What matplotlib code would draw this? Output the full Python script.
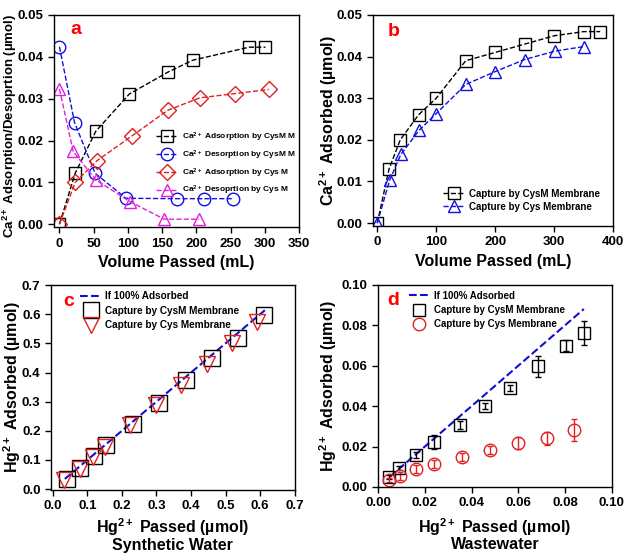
import numpy as np
import matplotlib
matplotlib.use("Agg")
import matplotlib.pyplot as plt
from matplotlib.lines import Line2D

plt.rcParams['font.family'] = ['Liberation Sans', 'DejaVu Sans']
plt.rcParams['font.weight'] = 'bold'
plt.rcParams['mathtext.fontset'] = 'custom'
plt.rcParams['mathtext.rm'] = 'Liberation Sans:bold'
plt.rcParams['mathtext.it'] = 'Liberation Sans:bold'
plt.rcParams['mathtext.bf'] = 'Liberation Sans:bold'

## panel a : Ca2+ adsorption / desorption
a_ads_cysm_x = [0, 23, 53, 102, 158, 195, 277, 301]
a_ads_cysm_y = [0, 0.0122, 0.0222, 0.0311, 0.0363, 0.0392, 0.0423, 0.0423]
a_des_cysm_x = [0, 22, 52, 97, 172, 211, 254]
a_des_cysm_y = [0.0424, 0.0243, 0.0122, 0.0062, 0.0061, 0.0061, 0.0061]
a_ads_cys_x = [0, 23, 55, 106, 158, 205, 256, 306]
a_ads_cys_y = [0, 0.0100, 0.0152, 0.0211, 0.0272, 0.0302, 0.0312, 0.0322]
a_des_cys_x = [0, 20, 53, 103, 153, 204]
a_des_cys_y = [0.0323, 0.0174, 0.0106, 0.0054, 0.0012, 0.0012]

## panel b : Ca2+ capture
b_cysm_x = [0, 20, 39, 70, 100, 150, 200, 250, 300, 350, 378]
b_cysm_y = [0, 0.013, 0.020, 0.026, 0.030, 0.039, 0.041, 0.043, 0.045, 0.046, 0.046]
b_cys_x = [0, 21, 40, 71, 100, 150, 200, 250, 301, 350]
b_cys_y = [0, 0.0103, 0.0165, 0.0223, 0.0263, 0.0333, 0.0364, 0.0393, 0.0413, 0.0424]

## panel c : Hg2+ synthetic water
c_line_x = [0.035, 0.615]
c_cysm_x = [0.042, 0.080, 0.119, 0.155, 0.231, 0.308, 0.386, 0.461, 0.535, 0.611]
c_cysm_y = [0.035, 0.072, 0.112, 0.150, 0.224, 0.297, 0.375, 0.449, 0.520, 0.598]
c_cys_x = [0.032, 0.078, 0.116, 0.150, 0.223, 0.299, 0.372, 0.446, 0.519, 0.590]
c_cys_y = [0.030, 0.068, 0.109, 0.146, 0.220, 0.289, 0.357, 0.429, 0.502, 0.574]

## panel d : Hg2+ wastewater
d_line_x = [0.005, 0.088]
d_cysm_x = [0.0046, 0.009, 0.0164, 0.0239, 0.035, 0.0456, 0.0564, 0.0683, 0.0803, 0.0879]
d_cysm_y = [0.0049, 0.0094, 0.0157, 0.0222, 0.0305, 0.0399, 0.0489, 0.0596, 0.0699, 0.0761]
d_cysm_err = [0.001, 0.0012, 0.0015, 0.0034, 0.002, 0.0015, 0.0015, 0.005, 0.0027, 0.006]
d_cys_x = [0.0046, 0.0093, 0.0164, 0.024, 0.036, 0.048, 0.060, 0.0721, 0.084]
d_cys_y = [0.0036, 0.0053, 0.0089, 0.0115, 0.0147, 0.0183, 0.0217, 0.024, 0.028]
d_cys_err = [0.001, 0.002, 0.002, 0.002, 0.002, 0.002, 0.003, 0.003, 0.0055]

fig = plt.figure(figsize=(6.25, 5.54), dpi=100)
axa = fig.add_axes([0.0864, 0.590, 0.392, 0.383])
axb = fig.add_axes([0.597, 0.592, 0.384, 0.381])
axc = fig.add_axes([0.0816, 0.1155, 0.390, 0.370])
axd = fig.add_axes([0.605, 0.121, 0.374, 0.365])

def style(ax):
    for s in ['top', 'right', 'left', 'bottom']:
        ax.spines[s].set_linewidth(1.0)
    ax.tick_params(direction='out', length=4, width=1, labelsize=9.5, top=False, right=False)
    for lab in ax.get_xticklabels() + ax.get_yticklabels():
        lab.set_fontweight('bold')

lab_fs = 11.5
BLUE = '#1010e0'
RED = '#e02020'
# ---- a
kw = dict(ls='--', lw=1, mfc='none', mew=1, ms=9)
axa.plot(a_ads_cysm_x, a_ads_cysm_y, marker='s', color='black', label='Ca$^{2+}$ Adsorption by CysM M', **kw)
axa.plot(a_des_cysm_x, a_des_cysm_y, marker='o', color=BLUE, label='Ca$^{2+}$ Desorption by CysM M', **kw)
axa.plot(a_ads_cys_x, a_ads_cys_y, marker='D', color=RED, label='Ca$^{2+}$ Adsorption by Cys M', **dict(kw, ms=8))
axa.plot(a_des_cys_x, a_des_cys_y, marker='^', color='#e020e0', label='Ca$^{2+}$ Desoprtion by Cys M', **kw)
axa.set_xlim(-8, 350)
axa.set_ylim(-0.0007, 0.05)
axa.set_xticks(np.arange(0, 351, 50))
axa.set_yticks(np.arange(0, 0.051, 0.01))
axa.yaxis.set_major_formatter(matplotlib.ticker.FormatStrFormatter('%.2f'))
axa.set_xlabel('Volume Passed (mL)', fontsize=lab_fs, fontweight='bold')
axa.set_ylabel('Ca$^{2+}$ Adsorption/Desoprtion (µmol)', fontsize=9.5, fontweight='bold')
axa.yaxis.set_label_coords(-0.142, 0.475)
axa.legend(loc='upper left', bbox_to_anchor=(0.40, 0.475), frameon=False, prop={'weight': 'bold', 'size': 6},
           handlelength=2.6, handletextpad=0.5, labelspacing=0.55, borderpad=0)
axa.text(0.065, 0.91, 'a', transform=axa.transAxes, color='red', fontsize=14, fontweight='bold')
style(axa)

# ---- b
axb.plot(b_cysm_x, b_cysm_y, marker='s', color='black', label='Capture by CysM Membrane', **kw)
axb.plot(b_cys_x, b_cys_y, marker='^', color=BLUE, label='Capture by Cys Membrane', **kw)
axb.set_xlim(-7, 400)
axb.set_ylim(-0.0007, 0.05)
axb.set_xticks(np.arange(0, 401, 100))
axb.set_yticks(np.arange(0, 0.051, 0.01))
axb.yaxis.set_major_formatter(matplotlib.ticker.FormatStrFormatter('%.2f'))
axb.set_xlabel('Volume Passed (mL)', fontsize=lab_fs, fontweight='bold')
axb.set_ylabel('Ca$^{2+}$ Adsorbed (µmol)', fontsize=lab_fs, fontweight='bold', labelpad=-1.5)
axb.legend(loc='upper left', bbox_to_anchor=(0.27, 0.20), frameon=False, prop={'weight': 'bold', 'size': 7},
           handlelength=2.3, handletextpad=0.4, labelspacing=0.3, borderpad=0)
axb.text(0.06, 0.9, 'b', transform=axb.transAxes, color='red', fontsize=14, fontweight='bold')
style(axb)

# ---- c
axc.plot(c_line_x, c_line_x, ls='--', lw=1.5, color='#1010d0', label='If 100% Adsorbed')
axc.plot(c_cysm_x, c_cysm_y, ls='none', marker='s', ms=11, mfc='none', mec='black', mew=1, label='Capture by CysM Membrane')
axc.plot(c_cys_x, c_cys_y, ls='none', marker='v', ms=11, mfc='none', mec=RED, mew=1, label='Capture by Cys Membrane')
axc.set_xlim(-0.005, 0.7)
axc.set_ylim(-0.003, 0.7)
axc.set_xticks(np.arange(0, 0.71, 0.1))
axc.set_yticks(np.arange(0, 0.71, 0.1))
axc.xaxis.set_major_formatter(matplotlib.ticker.FormatStrFormatter('%.1f'))
axc.yaxis.set_major_formatter(matplotlib.ticker.FormatStrFormatter('%.1f'))
axc.set_xlabel('Hg$^{2+}$ Passed (µmol)\nSynthetic Water', fontsize=lab_fs, fontweight='bold', linespacing=0.95, labelpad=3)
axc.set_ylabel('Hg$^{2+}$ Adsorbed (µmol)', fontsize=lab_fs, fontweight='bold', labelpad=-1)
axc.legend(loc='upper left', bbox_to_anchor=(0.1, 0.995), frameon=False, prop={'weight': 'bold', 'size': 7.2},
           handlelength=2.2, handletextpad=0.3, labelspacing=0.45, borderpad=0)
axc.text(0.05, 0.9, 'c', transform=axc.transAxes, color='red', fontsize=14, fontweight='bold')
style(axc)

# ---- d
axd.plot(d_line_x, d_line_x, ls='--', lw=1.5, color='#1010d0')
axd.errorbar(d_cysm_x, d_cysm_y, yerr=d_cysm_err, ls='none', marker='s', ms=8, mfc='none', mec='black', mew=1,
             ecolor='black', elinewidth=1, capsize=2.5)
axd.errorbar(d_cys_x, d_cys_y, yerr=d_cys_err, ls='none', marker='o', ms=9, mfc='none', mec=RED, mew=1,
             ecolor=RED, elinewidth=1, capsize=2.5)
axd.set_xlim(0, 0.1)
axd.set_ylim(0, 0.1)
axd.set_xticks(np.arange(0, 0.101, 0.02))
axd.set_yticks(np.arange(0, 0.101, 0.02))
axd.xaxis.set_major_formatter(matplotlib.ticker.FormatStrFormatter('%.2f'))
axd.yaxis.set_major_formatter(matplotlib.ticker.FormatStrFormatter('%.2f'))
axd.set_xlabel('Hg$^{2+}$ Passed (µmol)\nWastewater', fontsize=lab_fs, fontweight='bold', linespacing=0.9, labelpad=5)
axd.set_ylabel('Hg$^{2+}$ Adsorbed (µmol)', fontsize=lab_fs, fontweight='bold', labelpad=2)
hd = [Line2D([], [], ls='--', lw=1.5, color='#1010d0'),
      Line2D([], [], ls='none', marker='s', ms=8, mfc='none', mec='black', mew=1),
      Line2D([], [], ls='none', marker='o', ms=9, mfc='none', mec=RED, mew=1)]
axd.legend(hd, ['If 100% Adsorbed', 'Capture by CysM Membrane', 'Capture by Cys Membrane'],
           loc='upper left', bbox_to_anchor=(0.11, 0.995), frameon=False, prop={'weight': 'bold', 'size': 7},
           handlelength=2.2, handletextpad=0.4, labelspacing=0.45, borderpad=0)
axd.text(0.04, 0.9, 'd', transform=axd.transAxes, color='red', fontsize=14, fontweight='bold')
style(axd)

fig.savefig('out.png', dpi=100)
